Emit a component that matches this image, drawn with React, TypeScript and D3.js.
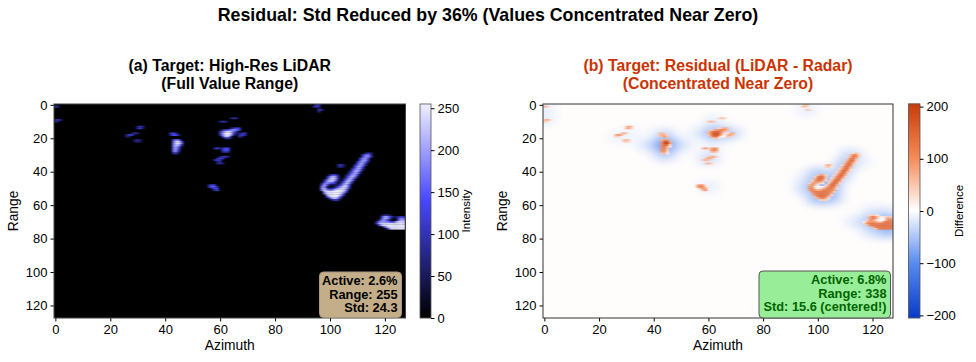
import React, { useEffect, useRef } from "react";
import * as d3 from "d3";

// rows of the LiDAR map: [range, first azimuth, ...intensity]
const lidarRows: number[][] = [
    [0, 95, 90, 110], [1, 0, 110, 70], [1, 94, 60, 130, 70], [2, 96, 60], [3, 96, 110, 80], [4, 96, 80],
    [9, 0, 70, 110, 60], [10, 0, 80, 50],
    [8, 64, 60, 100, 70], [10, 60, 70, 100, 80],
    [13, 30, 70, 110, 60], [14, 30, 90, 110, 40],
    [17, 28, 60, 100, 60], [17, 42, 100, 130, 70], [18, 26, 70, 130, 100], [18, 42, 90, 140, 140, 60], [19, 26, 60, 50],
    [21, 29, 60, 80, 50], [22, 29, 50, 70, 40], [21, 43, 120, 170, 150],
    [22, 43, 160, 235, 245, 140], [23, 43, 170, 245, 255, 170], [24, 43, 170, 230, 220, 110],
    [25, 43, 170, 215, 160, 40], [26, 43, 170, 205, 130], [27, 43, 170, 195, 100], [28, 43, 160, 180, 70], [29, 43, 90, 100, 30],
    // upper cluster
    [14, 64, 60, 110, 130, 110], [15, 61, 70, 110, 130, 170, 190, 170, 110], [16, 60, 90, 170, 220, 240, 220, 170, 90],
    [17, 60, 110, 200, 250, 255, 230, 120, 60, 50, 90, 110], [18, 60, 80, 190, 250, 255, 220, 90, 30, 90, 130, 90],
    [19, 61, 130, 230, 220, 90, 0, 0, 80, 60], [20, 62, 80, 100, 40],
    [26, 58, 80, 130, 60], [26, 61, 100, 140, 120], [27, 61, 120, 150, 130], [28, 61, 90, 110, 80],
    [31, 60, 60, 100, 110, 60], [32, 59, 80, 130, 110], [33, 58, 80, 120, 90], [34, 59, 60, 90], [35, 59, 70, 90, 60],
    [48, 56, 80, 130, 110], [49, 56, 100, 160, 150, 60], [50, 57, 80, 130, 110], [51, 58, 90, 120],
    // hook stroke
    [29, 113, 70, 110, 60], [30, 112, 110, 170, 170, 80], [31, 112, 130, 190, 190, 90], [32, 111, 110, 180, 200, 130],
    [33, 111, 130, 200, 195, 100], [34, 110, 90, 170, 200, 170, 60], [35, 110, 130, 200, 200, 120],
    [36, 109, 70, 150, 205, 185, 80], [37, 109, 110, 195, 205, 140], [38, 108, 70, 140, 200, 200, 100],
    [39, 108, 100, 180, 210, 170, 50], [40, 107, 60, 130, 205, 205, 110], [41, 107, 90, 170, 210, 180, 60],
    [42, 106, 60, 120, 200, 210, 130], [43, 106, 80, 170, 215, 190, 60], [44, 105, 50, 120, 200, 215, 130],
    [45, 105, 80, 170, 220, 190, 60], [46, 104, 50, 120, 205, 220, 130], [47, 104, 90, 180, 225, 190, 60],
    [48, 103, 60, 140, 215, 225, 130],
    // hook bowl
    [36, 103, 70, 120, 60], [37, 103, 60, 90, 40], [42, 100, 80, 140, 130, 60],
    [43, 99, 60, 170, 220, 190, 80], [44, 99, 100, 210, 240, 210, 90], [45, 98, 60, 170, 225, 240, 190, 70],
    [46, 98, 100, 190, 220, 210, 120, 40], [47, 97, 60, 170, 190, 150, 130, 90], [48, 97, 130, 210, 150, 50, 40, 50],
    [49, 97, 170, 190, 60, 10, 10, 50, 120, 200, 235, 230, 120], [50, 97, 190, 215, 110, 60, 90, 150, 200, 235, 245, 200, 80],
    [51, 97, 170, 230, 190, 170, 190, 235, 250, 250, 240, 170], [52, 98, 210, 245, 250, 250, 255, 255, 250, 220, 110],
    [53, 98, 170, 240, 255, 255, 255, 255, 240, 160], [54, 99, 210, 250, 255, 255, 250, 210, 90],
    [55, 99, 120, 230, 250, 250, 230, 130], [56, 100, 120, 210, 220, 160, 60], [57, 101, 60, 110, 70],
    // right-hand object
    [66, 119, 50, 90, 80, 40], [67, 119, 130, 210, 190, 120, 60, 50, 90, 110, 90],
    [68, 119, 150, 220, 190, 100, 20, 20, 140, 190, 160], [69, 118, 90, 190, 190, 130, 50, 10, 20, 160, 215, 200],
    [70, 117, 70, 170, 190, 190, 170, 120, 100, 190, 235, 235, 225], [71, 117, 110, 210, 235, 235, 240, 235, 235, 240, 245, 245, 235],
    [72, 118, 130, 230, 250, 250, 250, 250, 250, 250, 250, 245], [73, 120, 160, 245, 250, 250, 250, 250, 250, 250],
    [74, 121, 110, 220, 245, 245, 245, 245, 240],
];

// rows of the positive residual: [range, first azimuth, ...difference]
const residualRows: number[][] = [
    [0, 95, 40, 60], [1, 0, 80, 50], [1, 94, 30, 70, 40], [3, 96, 50, 40], [9, 0, 50, 90, 40], [10, 0, 50, 30],
    [8, 64, 40, 60, 40], [10, 60, 50, 70, 50],
    [13, 30, 50, 90, 50], [14, 30, 70, 80, 30],
    [17, 28, 40, 80, 50], [18, 26, 60, 110, 80], [19, 26, 40, 40], [21, 29, 50, 70, 40], [22, 29, 40, 50, 30],
    [17, 42, 50, 70, 40], [18, 42, 50, 70, 70, 30], [19, 43, 60, 90, 50],
    [21, 43, 60, 90, 80], [22, 43, 90, 170, 180, 60], [23, 43, 100, 190, 205, 80], [24, 43, 100, 150, 140, 30],
    [25, 43, 100, 130, 70, 10], [26, 43, 100, 120, 50], [27, 43, 100, 110, 40], [28, 43, 90, 100, 30], [29, 43, 50, 60, 10],
    // upper cluster
    [14, 64, 30, 60, 80, 60], [15, 61, 30, 60, 80, 100, 120, 100, 60], [16, 60, 50, 100, 140, 155, 140, 100, 50],
    [17, 60, 60, 120, 175, 180, 150, 70, 30, 20, 60, 80], [18, 60, 40, 110, 170, 180, 140, 50, 10, 60, 90, 50],
    [19, 61, 70, 150, 140, 50, 0, 0, 60, 40], [20, 62, 40, 60, 20],
    [26, 58, 60, 100, 40], [26, 61, 70, 110, 90], [27, 61, 90, 120, 100], [28, 61, 60, 80, 50],
    [31, 60, 40, 70, 80, 40], [32, 59, 50, 90, 70], [33, 58, 50, 70, 50], [35, 59, 50, 70, 40],
    [48, 56, 60, 100, 80], [49, 56, 80, 130, 120, 40], [50, 57, 60, 100, 80], [51, 58, 70, 100],
    // hook stroke
    [29, 113, 30, 60, 30], [30, 112, 60, 110, 110, 40], [31, 112, 70, 130, 130, 50], [32, 111, 50, 120, 140, 70],
    [33, 111, 70, 140, 135, 50], [34, 110, 40, 110, 140, 110, 30], [35, 110, 70, 140, 140, 60],
    [36, 109, 30, 90, 145, 125, 40], [37, 109, 60, 135, 145, 80], [38, 108, 30, 80, 140, 140, 50],
    [39, 108, 50, 120, 145, 110, 20], [40, 107, 30, 70, 145, 145, 60], [41, 107, 40, 110, 145, 120, 30],
    [42, 106, 30, 70, 140, 145, 70], [43, 106, 40, 110, 145, 130, 30], [44, 105, 20, 70, 140, 145, 70],
    [45, 105, 40, 110, 145, 130, 30], [46, 104, 20, 70, 140, 145, 70], [47, 104, 40, 120, 145, 125, 30],
    [48, 103, 20, 80, 140, 145, 70],
    // hook bowl
    [36, 103, 50, 80, 40], [37, 103, 40, 60, 20], [42, 100, 40, 90, 80, 30],
    [43, 99, 30, 110, 140, 120, 40], [44, 99, 50, 130, 150, 130, 40], [45, 98, 30, 90, 130, 130, 90, 20],
    [46, 98, 40, 90, 100, 90, 40], [47, 97, 30, 90, 90, 50, 30, 20], [48, 97, 70, 100, 60, 10],
    [49, 97, 90, 90, 20, 0, 0, 10, 50, 110, 130, 120, 50], [50, 97, 100, 110, 40, 10, 30, 60, 100, 125, 130, 90, 20],
    [51, 97, 90, 120, 90, 70, 80, 110, 120, 120, 120, 80], [52, 98, 110, 125, 125, 120, 130, 125, 120, 100, 40],
    [53, 98, 80, 120, 130, 130, 130, 130, 120, 70], [54, 99, 100, 130, 135, 135, 130, 100, 30],
    [55, 99, 50, 120, 130, 130, 110, 50], [56, 100, 50, 100, 110, 70, 20], [57, 101, 30, 50, 30],
    // right-hand object
    [66, 119, 30, 50, 40, 20], [67, 119, 70, 120, 100, 50, 20, 20, 40, 50, 40],
    [68, 119, 80, 130, 100, 40, 0, 0, 60, 90, 70], [69, 118, 30, 90, 90, 50, 10, 0, 0, 70, 115, 110],
    [70, 117, 10, 70, 90, 90, 80, 50, 30, 90, 125, 125, 115], [71, 117, 30, 100, 125, 125, 125, 120, 120, 125, 130, 130, 120],
    [72, 118, 50, 115, 130, 130, 130, 130, 130, 130, 130, 125], [73, 120, 70, 125, 130, 130, 130, 130, 130, 130],
    [74, 121, 40, 100, 125, 125, 125, 125, 120],
];

// coarse blocks of the negative residual around the objects: [azimuth, range, difference]
const haloBlocks: number[][] = [
    [112, 30, -25], [110, 36, -35], [108, 42, -35], [105, 48, -45], [100, 47, -80], [96, 50, -30], [100, 56, -45],
    [105, 56, -35], [100, 41, -35], [104, 52, -45], [96, 44, -15], [116, 34, -10],
    [120, 70, -40], [126, 70, -60], [114, 70, -15], [120, 76, -20], [126, 76, -40], [120, 64, -15], [126, 64, -15],
    [44, 24, -70], [44, 18, -25], [44, 30, -30], [38, 24, -20], [50, 24, -20],
    [62, 17, -50], [68, 17, -30], [56, 17, -12], [62, 10, -12], [62, 24, -8],
    [60, 32, -25], [60, 27, -8], [60, 49, -12], [30, 18, -10], [27, 20, -8], [33, 16, -6],
    [0, 2, -12], [0, 9, -12], [96, 3, -12],
];

const axisTicks = [0, 20, 40, 60, 80, 100, 120];
const intensityTicks = [0, 50, 100, 150, 200, 250];
const differenceTicks = [-200, -100, 0, 100, 200];
const lidarNote = ["Active: 2.6%", "Range: 255", "Std: 24.3"];
const residualNote = ["Active: 6.8%", "Range: 338", "Std: 15.6 (centered!)"];

const FONT = '"Liberation Sans", Arial, sans-serif';

const expandRows = (rows: number[][]) =>
    rows.flatMap(([range, first, ...values]) =>
        values.map((value, i) => ({ az: first + i, range, value }))
    );

const App = () => {
    const ref = useRef<SVGSVGElement>(null);

    useEffect(() => {
        const svg = d3.select(ref.current);
        svg.selectAll("*").remove();
        svg.attr("font-family", FONT);

        const lidarColor = d3
            .scaleLinear<string>()
            .domain([0, 140, 255])
            .range(["#000000", "#4848ff", "#f0f0ff"])
            .clamp(true);
        const diffColor = d3
            .scaleLinear<string>()
            .domain([-205, -100, 0, 100, 205])
            .range(["#0a3cc8", "#5a8cf0", "#ffffff", "#f58c5a", "#c83c0a"])
            .clamp(true);

        const defs = svg.append("defs");
        defs.append("filter")
            .attr("id", "soft")
            .attr("color-interpolation-filters", "sRGB")
            .attr("x", "-5%").attr("y", "-5%").attr("width", "110%").attr("height", "110%")
            .append("feGaussianBlur")
            .attr("stdDeviation", "0.9 0.6");
        defs.append("filter")
            .attr("id", "halo")
            .attr("color-interpolation-filters", "sRGB")
            .attr("x", "-5%").attr("y", "-5%").attr("width", "110%").attr("height", "110%")
            .append("feGaussianBlur")
            .attr("stdDeviation", "7 4.5");

        const top = 104;
        const bottom = 318;

        function panel(
            id: string,
            left: number,
            right: number,
            background: string,
            title: string[],
            titleColor: string
        ) {
            const x = d3.scaleLinear().domain([-0.5, 127.5]).range([left, right]);
            const y = d3.scaleLinear().domain([-0.5, 127.5]).range([top, bottom]);

            defs.append("clipPath").attr("id", id)
                .append("rect")
                .attr("x", left).attr("y", top)
                .attr("width", right - left).attr("height", bottom - top);

            const plot = svg.append("g").attr("clip-path", `url(#${id})`);
            plot.append("rect")
                .attr("x", left).attr("y", top)
                .attr("width", right - left).attr("height", bottom - top)
                .attr("fill", background);

            svg.append("g")
                .attr("transform", `translate(0,${bottom})`)
                .call(d3.axisBottom(x).tickValues(axisTicks).tickSize(3.5).tickPadding(3))
                .call((g) => g.select(".domain").remove())
                .attr("font-size", 13).attr("font-family", FONT);
            svg.append("g")
                .attr("transform", `translate(${left},0)`)
                .call(d3.axisLeft(y).tickValues(axisTicks).tickSize(3.5).tickPadding(3))
                .call((g) => g.select(".domain").remove())
                .attr("font-size", 13).attr("font-family", FONT);

            const mid = (left + right) / 2;
            svg.append("text")
                .attr("x", mid).attr("y", 350).attr("text-anchor", "middle")
                .attr("font-size", 13.8).text("Azimuth");
            svg.append("text")
                .attr("transform", `translate(${left - 36.5},${(top + bottom) / 2}) rotate(-90)`)
                .attr("text-anchor", "middle").attr("font-size", 13.8).text("Range");

            title.forEach((line, i) => {
                svg.append("text")
                    .attr("x", mid).attr("y", 71 + i * 18).attr("text-anchor", "middle")
                    .attr("font-size", 15.8).attr("font-weight", "bold")
                    .attr("fill", titleColor).text(line);
            });
            return { x, y, plot };
        }

        function drawCells(g: any, rows: number[][], x: any, y: any, color: any) {
            g.append("g")
                .attr("filter", "url(#soft)")
                .selectAll("rect")
                .data(expandRows(rows))
                .join("rect")
                .attr("x", (d: any) => x(d.az - 0.5))
                .attr("y", (d: any) => y(d.range - 0.5))
                .attr("width", x(1) - x(0) + 0.2)
                .attr("height", y(1) - y(0) + 0.2)
                .attr("fill", (d: any) => color(d.value));
        }

        function spines(left: number, right: number, sides: string) {
            svg.append("rect")
                .attr("x", left).attr("y", top)
                .attr("width", right - left).attr("height", bottom - top)
                .attr("fill", "none").attr("stroke", sides).attr("stroke-width", 1);
        }

        function colorbar(
            left: number,
            right: number,
            domain: [number, number],
            ticks: number[],
            color: any,
            label: string,
            labelX: number
        ) {
            const scale = d3.scaleLinear().domain(domain).range([bottom, top]);
            const steps = d3.range(domain[0], domain[1], (domain[1] - domain[0]) / 214);
            svg.append("g")
                .selectAll("rect")
                .data(steps)
                .join("rect")
                .attr("x", left)
                .attr("y", (d) => scale(d) - 1.5)
                .attr("width", right - left)
                .attr("height", 1.6)
                .attr("fill", (d) => color(d));
            svg.append("rect")
                .attr("x", left).attr("y", top)
                .attr("width", right - left).attr("height", bottom - top)
                .attr("fill", "none").attr("stroke", "#555").attr("stroke-width", 0.8);
            svg.append("g")
                .attr("transform", `translate(${right},0)`)
                .call(d3.axisRight(scale).tickValues(ticks).tickSize(3.5).tickPadding(3))
                .call((g) => g.select(".domain").remove())
                .attr("font-size", 13).attr("font-family", FONT);
            svg.append("text")
                .attr("transform", `translate(${labelX},${(top + bottom) / 2}) rotate(-90)`)
                .attr("text-anchor", "middle").attr("font-size", 11.5).text(label);
        }

        function note(
            lines: string[],
            left: number,
            right: number,
            boxTop: number,
            boxBottom: number,
            fill: string,
            stroke: string,
            ink: string
        ) {
            svg.append("rect")
                .attr("x", left).attr("y", boxTop)
                .attr("width", right - left).attr("height", boxBottom - boxTop)
                .attr("rx", 4).attr("fill", fill).attr("stroke", stroke).attr("stroke-width", 1);
            lines.forEach((line, i) => {
                svg.append("text")
                    .attr("x", right - 4).attr("y", boxTop + 13 + i * 13.7)
                    .attr("text-anchor", "end").attr("font-size", 12.8).attr("font-weight", "bold")
                    .attr("fill", ink).text(line);
            });
        }

        svg.append("text")
            .attr("x", 488).attr("y", 21).attr("text-anchor", "middle")
            .attr("font-size", 17.8).attr("font-weight", "bold")
            .text("Residual: Std Reduced by 36% (Values Concentrated Near Zero)");

        // (a) LiDAR
        const a = panel("clipA", 54, 405.5, "#000000",
            ["(a) Target: High-Res LiDAR", "(Full Value Range)"], "#000000");
        drawCells(a.plot, lidarRows, a.x, a.y, lidarColor);
        spines(54, 405.5, "#444");
        colorbar(420, 431, [0, 255], intensityTicks, lidarColor, "Intensity", 470);
        note(lidarNote, 319.5, 401.5, 272, 317.5, "#c4ae8a", "#a8957a", "#000000");

        // (b) Residual
        const b = panel("clipB", 543, 893, "#fffdfc",
            ["(b) Target: Residual (LiDAR - Radar)", "(Concentrated Near Zero)"], "#cc3300");
        b.plot.append("g")
            .attr("filter", "url(#halo)")
            .selectAll("rect")
            .data(haloBlocks)
            .join("rect")
            .attr("x", (d) => b.x(d[0] - 3))
            .attr("y", (d) => b.y(d[1] - 3))
            .attr("width", b.x(6) - b.x(0))
            .attr("height", b.y(6) - b.y(0))
            .attr("fill", (d) => diffColor(d[2] * 1.6));
        drawCells(b.plot, residualRows, b.x, b.y, diffColor);
        spines(543, 893, "#333");
        colorbar(908.5, 920, [-205, 205], differenceTicks, diffColor, "Difference", 963);
        note(residualNote, 759, 890.5, 271, 318, "#98ee98", "#555555", "#006400");
    }, []);

    return (
        <svg
            ref={ref}
            width={976}
            height={362}
            style={{ position: "absolute", left: 0, top: 0, display: "block" }}
        />
    );
};

export default App;
